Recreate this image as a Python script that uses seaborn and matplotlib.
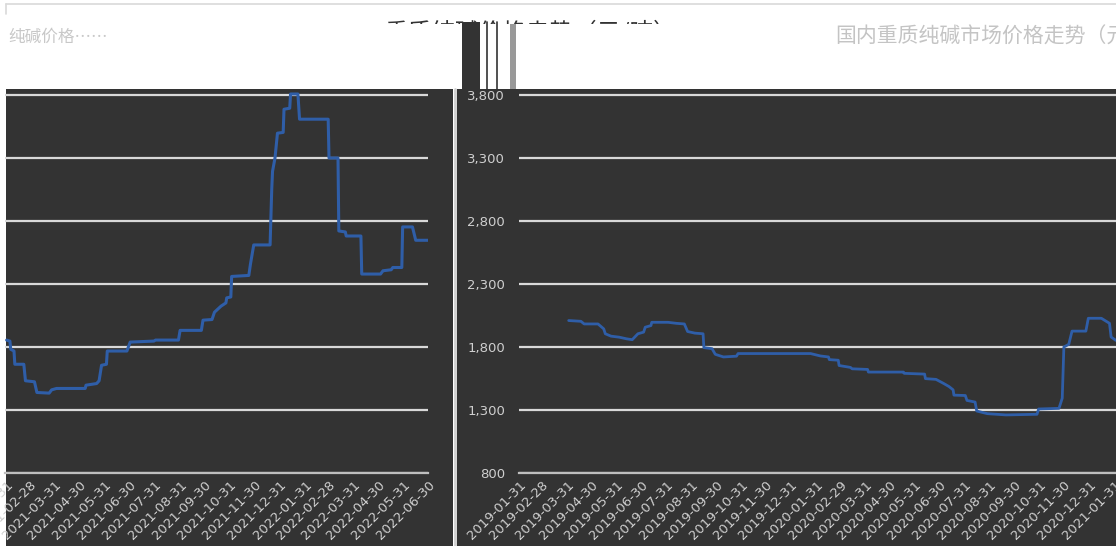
import pandas as pd
import seaborn as sns
import matplotlib.pyplot as plt
import matplotlib.dates as mdates
from matplotlib.patches import Rectangle
from matplotlib.lines import Line2D
from matplotlib.ticker import FuncFormatter

# --- data (yuan / ton) ---
left_dates = [
    "2021-01-31", "2021-02-04", "2021-02-05", "2021-02-09", "2021-02-10", "2021-02-21",
    "2021-02-23", "2021-03-06", "2021-03-09", "2021-03-24", "2021-03-27", "2021-04-02",
    "2021-05-07", "2021-05-08", "2021-05-21", "2021-05-24", "2021-05-27", "2021-06-02",
    "2021-06-03", "2021-06-27", "2021-07-01", "2021-07-30", "2021-08-01", "2021-08-29",
    "2021-08-31", "2021-09-26", "2021-09-28", "2021-10-09", "2021-10-12", "2021-10-20",
    "2021-10-26", "2021-10-27", "2021-11-01", "2021-11-02", "2021-11-23", "2021-11-25",
    "2021-11-29", "2021-12-19", "2021-12-21", "2021-12-22", "2021-12-25", "2021-12-28",
    "2022-01-04", "2022-01-05", "2022-01-12", "2022-01-13", "2022-01-22", "2022-01-24",
    "2022-02-28", "2022-03-01", "2022-03-12", "2022-03-13", "2022-03-21", "2022-03-22",
    "2022-04-09", "2022-04-10", "2022-05-03", "2022-05-06", "2022-05-16", "2022-05-18",
    "2022-05-29", "2022-05-30", "2022-06-11", "2022-06-15", "2022-06-30",
]
left_prices = [
    1855, 1847, 1782, 1768, 1663, 1663,
    1532, 1524, 1439, 1434, 1460, 1471,
    1471, 1497, 1510, 1532, 1655, 1663,
    1768, 1768, 1839, 1847, 1855, 1855,
    1932, 1932, 2013, 2018, 2076, 2124,
    2150, 2190, 2197, 2360, 2368, 2458,
    2610, 2610, 3050, 3195, 3300, 3497,
    3503, 3687, 3695, 3808, 3808, 3608,
    3608, 3300, 3300, 2721, 2713, 2681,
    2681, 2379, 2379, 2405, 2413, 2431,
    2431, 2753, 2753, 2647, 2647,
]

right_dates = [
    "2019-04-02", "2019-04-17", "2019-04-21", "2019-05-08", "2019-05-15", "2019-05-17",
    "2019-05-24", "2019-06-03", "2019-06-12", "2019-06-19", "2019-06-26", "2019-07-03",
    "2019-07-05", "2019-07-12", "2019-07-13", "2019-08-02", "2019-08-12", "2019-08-22",
    "2019-08-26", "2019-09-04", "2019-09-14", "2019-09-15", "2019-09-25", "2019-09-29",
    "2019-10-09", "2019-10-25", "2019-10-27", "2020-01-24", "2020-02-05", "2020-02-15",
    "2020-02-16", "2020-02-27", "2020-02-28", "2020-03-13", "2020-03-15", "2020-04-03",
    "2020-04-04", "2020-05-17", "2020-05-18", "2020-06-12", "2020-06-13", "2020-06-26",
    "2020-07-05", "2020-07-12", "2020-07-17", "2020-07-18", "2020-08-01", "2020-08-03",
    "2020-08-13", "2020-08-15", "2020-08-28", "2020-09-20", "2020-10-28", "2020-10-30",
    "2020-11-24", "2020-11-28", "2020-11-30", "2020-12-06", "2020-12-10", "2020-12-27",
    "2020-12-30", "2021-01-15", "2021-01-25", "2021-01-27", "2021-02-02",
]
right_prices = [
    2010, 2004, 1983, 1983, 1944, 1905,
    1886, 1878, 1865, 1858, 1905, 1918,
    1957, 1970, 1996, 1996, 1988, 1983,
    1923, 1910, 1905, 1795, 1787, 1742,
    1721, 1727, 1748, 1748, 1729, 1721,
    1700, 1695, 1653, 1638, 1627, 1622,
    1601, 1601, 1591, 1585, 1549, 1543,
    1512, 1486, 1460, 1418, 1415, 1376,
    1363, 1292, 1271, 1261, 1266, 1308,
    1313, 1394, 1800, 1821, 1926, 1926,
    2028, 2028, 1988, 1879, 1852,
]

y_ticks = [800, 1300, 1800, 2300, 2800, 3300, 3800]
left_ticks = pd.date_range("2021-01-31", "2022-06-30", freq="ME")
right_ticks = pd.date_range("2019-01-31", "2021-01-31", freq="ME")

title_left = "纯碱价格……"
title_mid = "重质纯碱价格走势（元/吨）"
title_right = "国内重质纯碱市场价格走势（元/吨）"

# --- styling ---
sns.set_theme(style="white")
plt.rcParams["font.family"] = ["DejaVu Sans"]
cjk = ["Noto Sans CJK SC", "DejaVu Sans"]

BG = "#333333"
GRID = "#d9d9d9"
TXT = "#cfcfcf"
LINE = "#2f5ea8"

W, H = 1116, 546
fig = plt.figure(figsize=(W / 100, H / 100), dpi=100, facecolor="white")


def fx(px):
    return px / W


def fy(py):
    return 1 - py / H


# dark backdrop of the two panels (drawn under the axes)
fig.patches.append(Rectangle((fx(6), 0), fx(447), fy(89), transform=fig.transFigure,
                             facecolor=BG, edgecolor="none", zorder=-2))
fig.patches.append(Rectangle((fx(457), 0), fx(W - 457), fy(89), transform=fig.transFigure,
                             facecolor=BG, edgecolor="none", zorder=-2))
fig.lines.append(Line2D([fx(6), 1], [fy(4), fy(4)], transform=fig.transFigure,
                        color="#d9d9d9", lw=1.2, zorder=-1))
fig.lines.append(Line2D([fx(6), fx(6)], [fy(4), fy(14)], transform=fig.transFigure,
                        color="#d9d9d9", lw=1.2, zorder=-1))
fig.lines.append(Line2D([fx(455), fx(455)], [0, fy(89)], transform=fig.transFigure,
                        color="#d0d0d0", lw=2, zorder=-1))

ymin, ymax = 800, 3800 + 6 * 3000 / 378


def setup(ax, xmin, xmax, ticks):
    ax.set_facecolor(BG)
    ax.set_xlim(pd.Timestamp(xmin), pd.Timestamp(xmax))
    ax.set_ylim(ymin, ymax)
    ax.set_yticks(y_ticks)
    ax.grid(axis="y", color=GRID, lw=1.6)
    ax.grid(axis="x", visible=False)
    ax.set_axisbelow(True)
    for s in ["top", "left", "right"]:
        ax.spines[s].set_visible(False)
    ax.spines["bottom"].set_color("#bfbfbf")
    ax.spines["bottom"].set_linewidth(1.6)
    ax.set_xticks(ticks)
    ax.xaxis.set_major_formatter(mdates.DateFormatter("%Y-%m-%d"))
    ax.tick_params(axis="x", colors="#bfbfbf", labelcolor=TXT, length=3, width=1,
                   direction="out", labelsize=9.5, pad=1)
    for lab in ax.get_xticklabels():
        lab.set_rotation(45)
        lab.set_ha("right")
        lab.set_rotation_mode("anchor")
    ax.set_xlabel("")
    ax.set_ylabel("")
    ax.set_zorder(2)


# left panel
ax1 = fig.add_axes([fx(5), fy(473), fx(428 - 5), fy(89) - fy(473)])
df_left = pd.DataFrame({"date": pd.to_datetime(left_dates), "price": left_prices})
sns.lineplot(data=df_left, x="date", y="price", ax=ax1, color=LINE, lw=2.2)
setup(ax1, "2021-01-29", "2022-06-30", left_ticks)
ax1.patch.set_alpha(0)
ax1.tick_params(axis="y", length=0, labelleft=False)

# right panel
ax2 = fig.add_axes([fx(519), fy(473), fx(W - 519), fy(89) - fy(473)])
df_right = pd.DataFrame({"date": pd.to_datetime(right_dates), "price": right_prices})
sns.lineplot(data=df_right, x="date", y="price", ax=ax2, color=LINE, lw=2.0)
setup(ax2, "2019-01-31", "2021-02-02", right_ticks)
ax2.patch.set_alpha(0)
ax2.yaxis.set_major_formatter(FuncFormatter(lambda v, p: f"{int(v):,}"))
ax2.tick_params(axis="y", length=0, labelcolor=TXT, labelsize=9.5, pad=10)

# titles
fig.text(fx(8), fy(37), title_left, family=cjk, fontsize=12, color="#c8c8c8",
         ha="left", va="center")
fig.text(fx(835), fy(36), title_right, family=cjk, fontsize=15, color="#c4c4c4",
         ha="left", va="center")
t = fig.text(fx(385), fy(20), title_mid, family=cjk, fontsize=17, color="#333333",
             ha="left", va="top")
t.set_clip_path(Rectangle((0, fy(24)), 1, fy(0) - fy(24), transform=fig.transFigure))

# dark/grey blocks around the middle of the header
fig.patches.append(Rectangle((fx(462), fy(89)), fx(18), fy(22) - fy(89),
                             transform=fig.transFigure, facecolor=BG, edgecolor="none",
                             zorder=3))
fig.patches.append(Rectangle((fx(510), fy(89)), fx(6), fy(24) - fy(89),
                             transform=fig.transFigure, facecolor="#999999", edgecolor="none",
                             zorder=3))
for xp in [487, 497]:
    fig.lines.append(Line2D([fx(xp), fx(xp)], [fy(22), fy(89)], transform=fig.transFigure,
                            color=BG, lw=1.2, zorder=3))

fig.savefig("out.png", dpi=100, facecolor="white")
